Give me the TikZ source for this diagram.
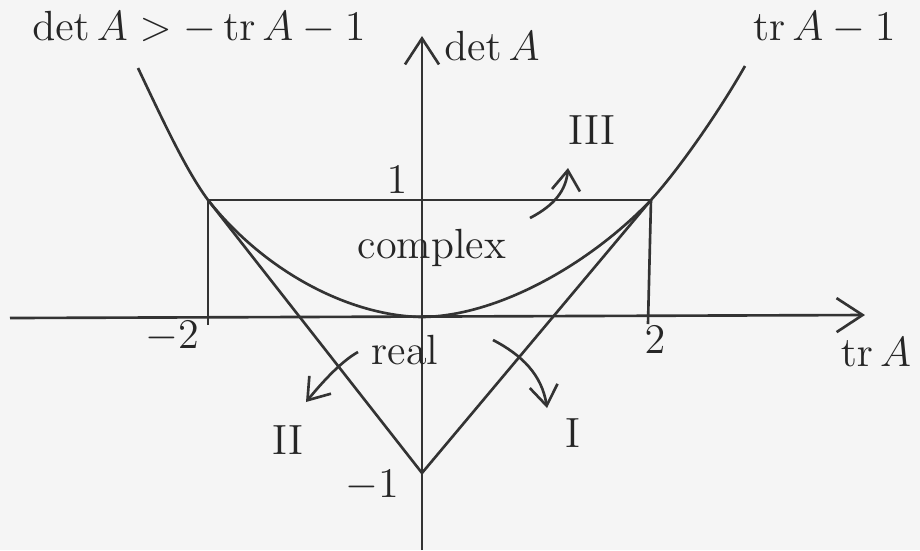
\documentclass[tikz,border=0pt]{standalone}
\usepackage{amsmath}
\usepackage{tikz}
\usetikzlibrary{arrows.meta, positioning}

\begin{document}
\begin{tikzpicture}[
        x=0.01cm, y=-0.01cm,
        every node/.style={font=\large, text=black!85},
        pen/.style={draw=black!80, line width=0.75pt},
        axis/.style={pen, -{Straight Barb[length=2.6mm, width=3.4mm]}},
        hint/.style={pen, -{Straight Barb[length=2mm, width=2.8mm]}}
        ]
        \useasboundingbox[fill=black!4] (0,0) rectangle (920,550);
        % Coordinates
        \coordinate (O) at (422,317);
        \coordinate (xl) at (10,318);
        \coordinate (xr) at (865,315);
        \coordinate (yb) at (422,550);
        \coordinate (yt) at (422,36);
        \coordinate (P) at (208,200);
        \coordinate (Q) at (651,200);
        \coordinate (M) at (422,473);
        \coordinate (Pb) at (208,325);
        \coordinate (Qb) at (648,324);
        \coordinate (L) at (138,68);
        \coordinate (R) at (745,66);

        % Axes
        \draw[axis] (xl) -- (xr);
        \draw[axis] (yb) -- (yt);

        % Lines and curve
        \draw[pen] (P) -- (Q);
        \draw[pen] (P) -- (Pb);
        \draw[pen] (Q) -- (Qb);
        \draw[pen] (P) -- (M) -- (Q);
        \draw[pen] (L) .. controls (165,125) and (186,170) .. (P)
                   .. controls (265,272) and (350,316) .. (O)
                   .. controls (500,316) and (592,262) .. (Q)
                   .. controls (680,168) and (720,110) .. (R);

        % Nodes
        \node[anchor=west] (cond1) at (20,28) {$\det A > -\operatorname{tr}A - 1$};
        \node[anchor=east] (cond2) at (908,28) {$\operatorname{tr}A - 1$};
        \node (detA) at (492,46) {$\det A$};
        \node (trA) at (876,352) {$\operatorname{tr}A$};
        \node (one) at (397,180) {$1$};
        \node (mtwo) at (172,337) {$-2$};
        \node (two) at (655,340) {$2$};
        \node (mone) at (372,486) {$-1$};
        \node (complex) at (432,248) {complex};
        \node (real) at (405,350) {real};
        \node (r3) at (592,130) {III};
        \node (r2) at (288,440) {II};
        \node (r1) at (573,433) {I};

        % Arrows
        \coordinate (a3) at (530,218);
        \coordinate (b3) at (568,168);
        \coordinate (a2) at (358,352);
        \coordinate (b2) at (306,402);
        \coordinate (a1) at (493,340);
        \coordinate (b1) at (547,408);
        \draw[hint] (a3) .. controls (555,205) and (566,190) .. (b3);
        \draw[hint] (a2) .. controls (340,362) and (320,385) .. (b2);
        \draw[hint] (a1) .. controls (522,355) and (542,375) .. (b1);
    \end{tikzpicture}
\end{document}
